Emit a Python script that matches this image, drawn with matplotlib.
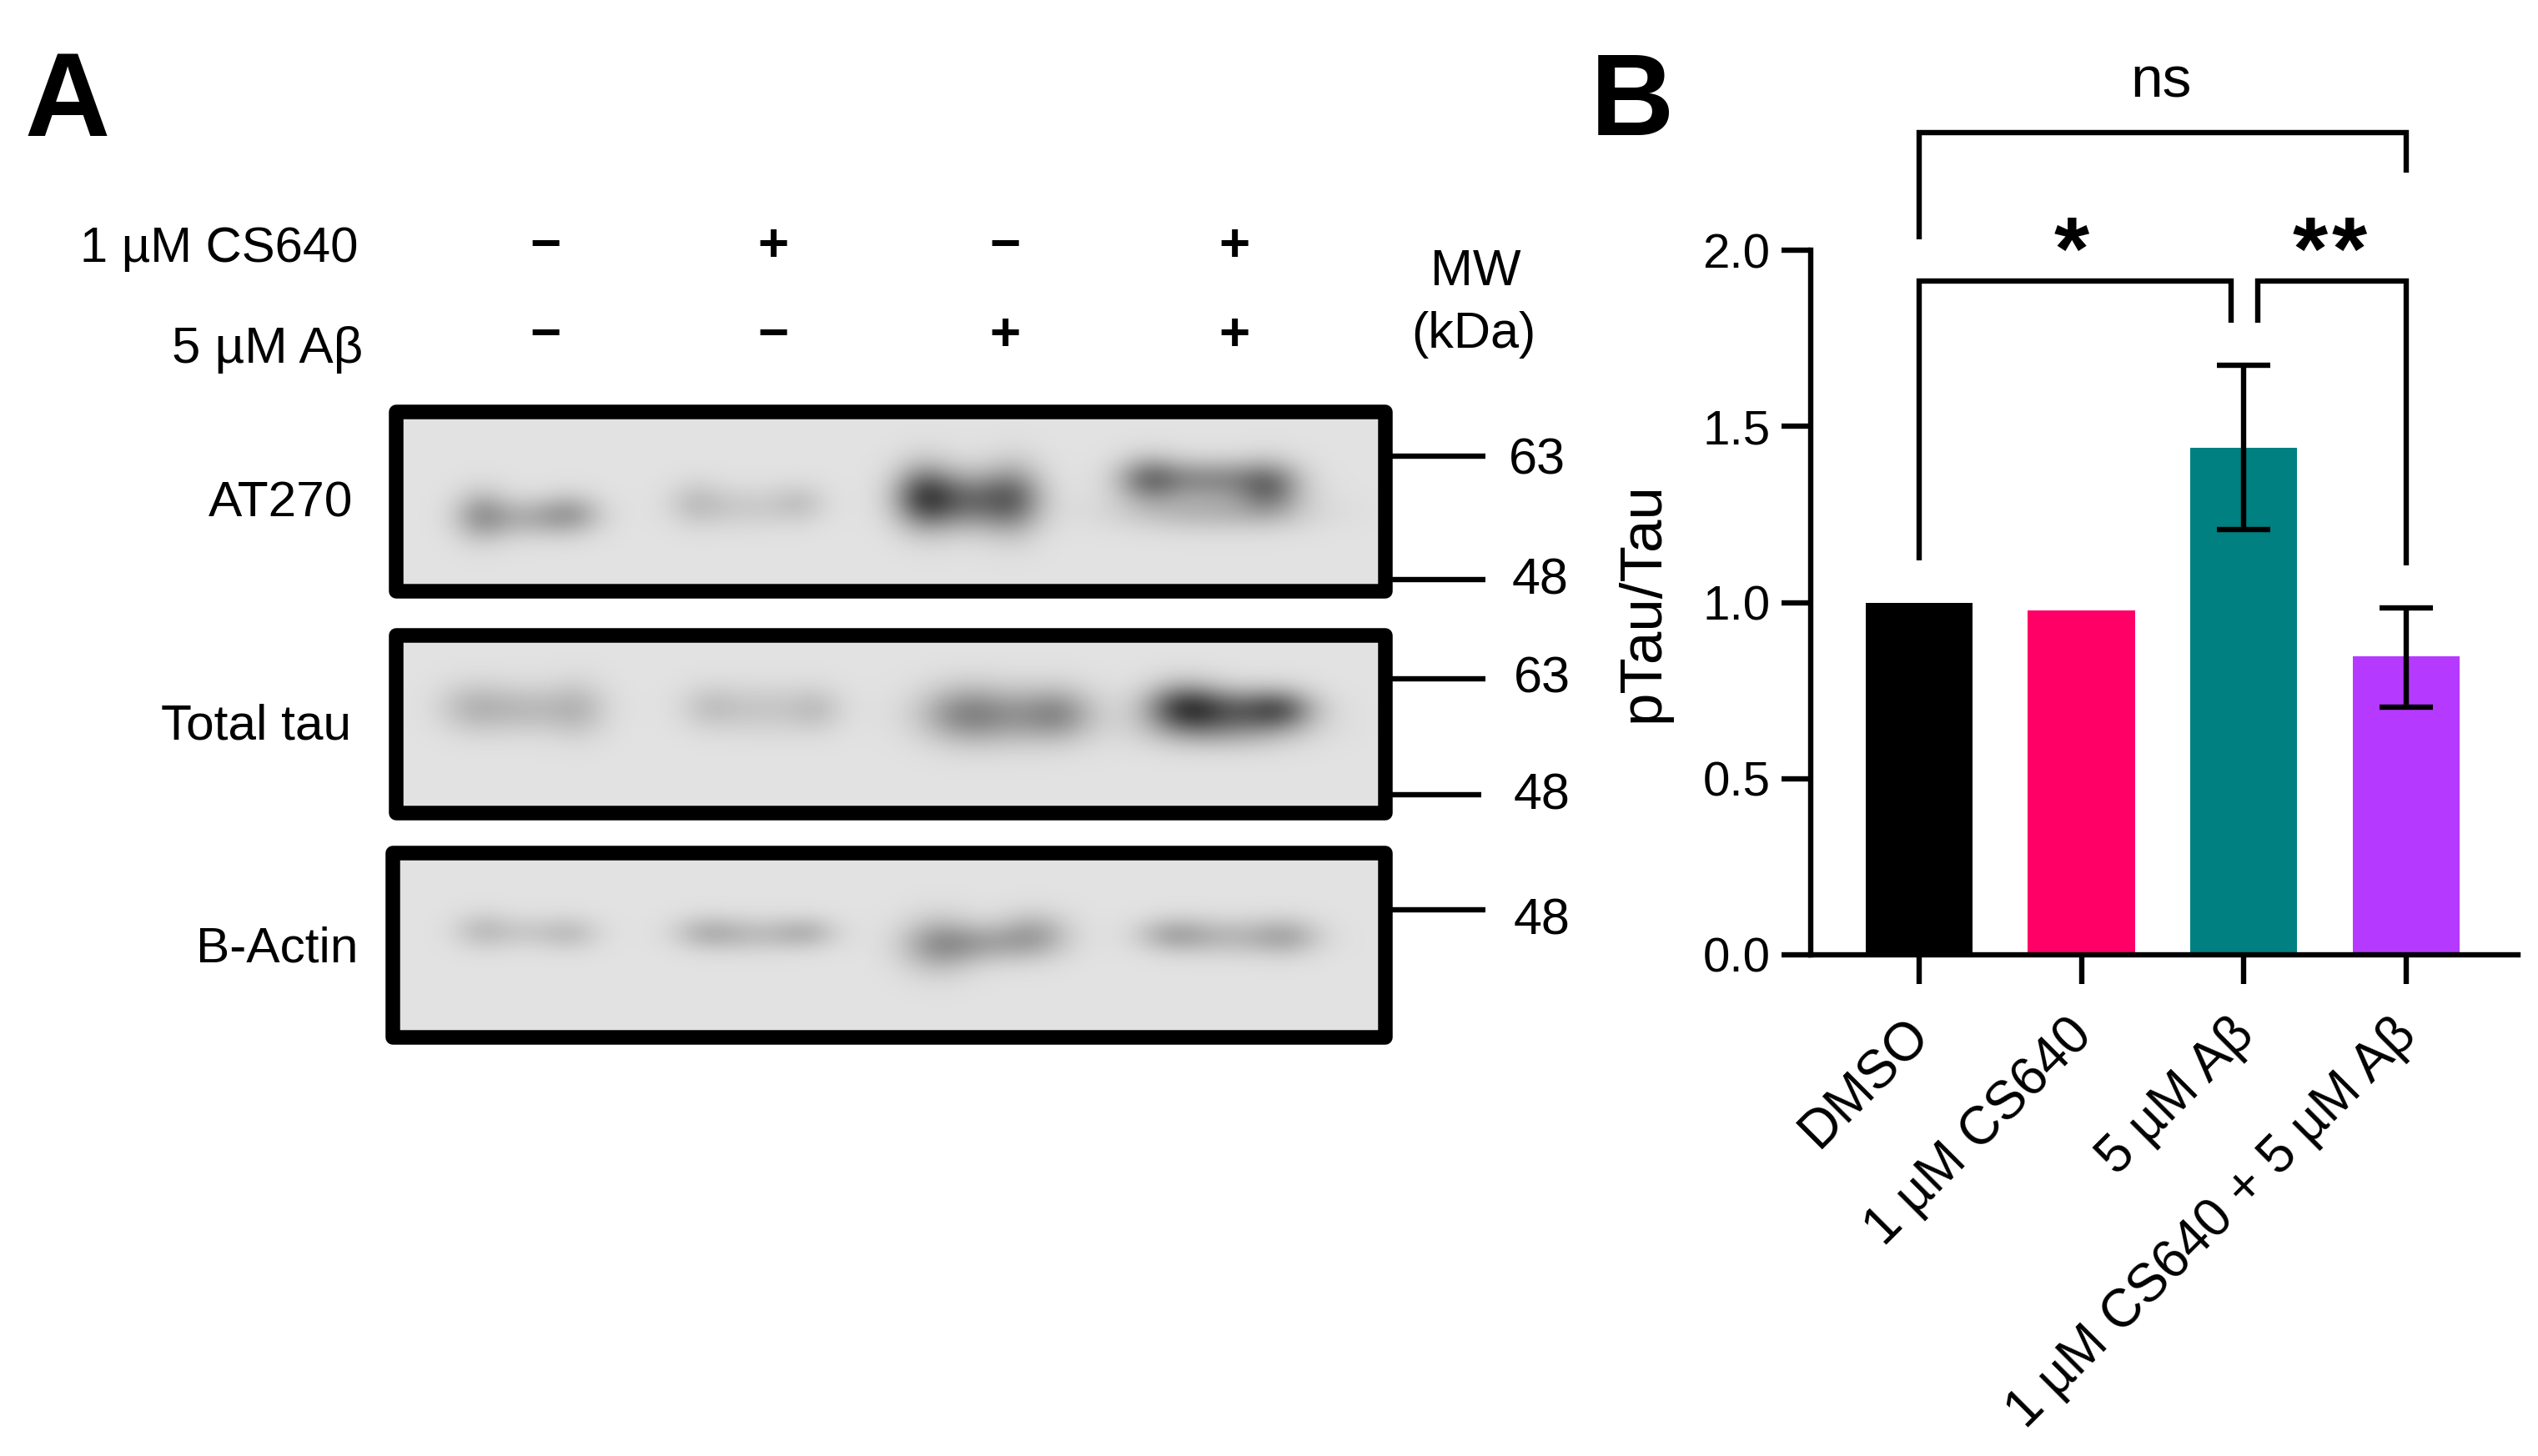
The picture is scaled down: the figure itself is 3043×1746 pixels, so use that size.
import numpy as np
import matplotlib
matplotlib.use('Agg')
import matplotlib.pyplot as plt
from matplotlib.patches import Rectangle
from matplotlib.transforms import ScaledTranslation

plt.rcParams['font.family'] = ['Liberation Sans', 'DejaVu Sans']

# panel B values
groups = ['DMSO', '1 µM CS640', '5 µM Aβ', '1 µM CS640 + 5 µM Aβ']
means = [1.0, 0.977, 1.44, 0.847]
err_low = [None, None, 1.207, 0.703]
err_high = [None, None, 1.673, 0.985]
bar_colors = ['#000000', '#ff0066', '#008080', '#b539ff']
y_ticks = [0.0, 0.5, 1.0, 1.5, 2.0]

# panel A labels
cs640_row = ['−', '+', '−', '+']
abeta_row = ['−', '−', '+', '+']
blot_names = ['AT270', 'Total tau', 'B-Actin']

at270_bands = [(165, 290, 15, 40, .30), (235, 295, 45, 30, .24), (295, 285, 20, 30, .24),
               (475, 260, 16, 35, .13), (545, 270, 50, 32, .12), (625, 260, 15, 30, .12),
               (805, 245, 20, 50, .60), (870, 255, 45, 45, .55), (935, 250, 20, 55, .42),
               (1130, 205, 22, 35, .42), (1220, 205, 60, 30, .42), (1305, 225, 22, 40, .45), (1220, 280, 90, 30, .22)]
tau_bands = [(150, 740, 25, 40, .15), (225, 745, 50, 38, .20), (305, 745, 20, 45, .16),
             (495, 740, 20, 35, .12), (575, 745, 50, 38, .14), (650, 745, 15, 35, .12),
             (860, 755, 35, 45, .26), (930, 760, 70, 45, .34), (1000, 755, 25, 40, .24),
             (1180, 740, 30, 38, .55), (1250, 745, 60, 32, .50), (1320, 745, 25, 30, .40), (1240, 795, 70, 30, .24)]
actin_bands = [(165, 1265, 18, 28, .14), (230, 1270, 40, 24, .11), (295, 1272, 20, 25, .13),
               (490, 1270, 25, 25, .17), (560, 1275, 50, 25, .17), (635, 1270, 22, 22, .17),
               (825, 1300, 30, 45, .30), (890, 1295, 50, 30, .26), (965, 1275, 28, 35, .26),
               (1165, 1275, 28, 25, .22), (1250, 1280, 60, 28, .20), (1330, 1280, 25, 28, .20)]

W, H = 3043, 1746
LINE = 4.6


def blot_image(x0, x1, y0, y1, bands):
    xs, ys = np.meshgrid(np.arange(x0, x1), np.arange(y0, y1))
    img = np.full(xs.shape, 0.885)
    for bx, by, sx, sy, d in bands:
        cx = 440 + bx * 0.829
        cy = 470 + by * 0.51
        wide = np.sqrt(sx ** 2 + 24 ** 2) * 0.829
        tall = np.sqrt(sy ** 2 + 16 ** 2) * 0.51
        img -= d * 0.72 * np.exp(-((xs - cx) / wide) ** 2 / 2 - ((ys - cy) / tall) ** 2 / 2)
    return np.clip(img, 0, 1)


fig = plt.figure(figsize=(W / 100, H / 100), dpi=100, facecolor='white')

# whole figure axes in pixels, for the blot panel
ax0 = fig.add_axes([0, 0, 1, 1])
ax0.set_xlim(0, W)
ax0.set_ylim(H, 0)
ax0.axis('off')

panels = [(483, 1652, 502, 700, at270_bands), (483, 1652, 770, 966, tau_bands), (479, 1652, 1031, 1235, actin_bands)]
for x0, x1, y0, y1, bands in panels:
    ax0.imshow(blot_image(x0, x1, y0, y1, bands), cmap='gray', vmin=0, vmax=1, aspect='auto',
               extent=(x0, x1, y1, y0), interpolation='bilinear')
    ax0.add_patch(Rectangle((x0 - 8.5, y0 - 8.5), x1 - x0 + 17, y1 - y0 + 17, fill=False, ec='black', lw=12.6,
                            joinstyle='round'))
ax0.set_xlim(0, W)
ax0.set_ylim(H, 0)

for ty, x_end, lab, lx, ly in [(547, 1781, '63', 1843, 553), (695, 1781, '48', 1847, 697),
                               (814, 1781, '63', 1849, 815), (953, 1776, '48', 1849, 955),
                               (1091, 1781, '48', 1849, 1105)]:
    ax0.plot([1669, x_end], [ty, ty], color='black', lw=LINE, solid_capstyle='butt')
    ax0.text(lx, ly, lab, fontsize=44, ha='center', va='center')

for name, ry, rx in zip(blot_names, [604, 871, 1138], [423, 421, 429]):
    ax0.text(rx, ry, name, fontsize=43.5, ha='right', va='center')

ax0.text(429, 299, '1 µM CS640', fontsize=43, ha='right', va='center')
ax0.text(435, 419, '5 µM Aβ', fontsize=44.5, ha='right', va='center')
for lane_x, a, b in zip([654, 927, 1205, 1480], cs640_row, abeta_row):
    ax0.text(lane_x, 296, a, fontsize=46, fontweight='bold', ha='center', va='center')
    ax0.text(lane_x, 403, b, fontsize=46, fontweight='bold', ha='center', va='center')
ax0.text(1769, 326, 'MW', fontsize=44, ha='center', va='center')
ax0.text(1767, 402, '(kDa)', fontsize=44, ha='center', va='center')

ax0.text(29, 126, 'A', fontsize=102, fontweight='bold', ha='left', va='center')
ax0.text(1907, 126, 'B', fontsize=100, fontweight='bold', ha='left', va='center')

# bar chart
ax = fig.add_axes([2171 / W, 1 - 1145 / H, (3019 - 2171) / W, (1145 - 300) / H])
ax.patch.set_alpha(0)
xpos = np.arange(len(groups))
ax.bar(xpos, means, width=0.66, color=bar_colors)
for i in xpos:
    if err_low[i] is not None:
        ax.plot([i, i], [err_low[i], err_high[i]], color='black', lw=LINE, solid_capstyle='butt')
        for v in (err_low[i], err_high[i]):
            ax.plot([i - 0.165, i + 0.165], [v, v], color='black', lw=LINE, solid_capstyle='butt')

ax.set_xlim(-0.668, 3.69)
ax.set_ylim(0, 2)
ax.set_yticks(y_ticks)
ax.set_yticklabels(['%.1f' % t for t in y_ticks])
ax.set_xticks(xpos)
ax.set_xticklabels(groups, rotation=45, ha='right', rotation_mode='anchor')
ax.tick_params(axis='both', width=LINE, length=25)
ax.tick_params(axis='y', labelsize=42, pad=10)
ax.tick_params(axis='x', labelsize=46, pad=22)
shift = ScaledTranslation(-18 / 100, 0, fig.dpi_scale_trans)
for lab in ax.get_xticklabels():
    lab.set_transform(lab.get_transform() + shift)
for s in ('top', 'right'):
    ax.spines[s].set_visible(False)
for s in ('left', 'bottom'):
    ax.spines[s].set_linewidth(LINE)
ax.set_ylabel('pTau/Tau', fontsize=51, labelpad=27)


# significance brackets
def bracket(xs, ys):
    ax.plot(xs, ys, color='black', lw=LINE, clip_on=False, solid_joinstyle='miter', solid_capstyle='butt')


bracket([0, 0, 3, 3], [2.03, 2.334, 2.334, 2.22])
bracket([0, 0, 1.92, 1.92], [1.12, 1.912, 1.912, 1.794])
bracket([2.085, 2.085, 3, 3], [1.794, 1.912, 1.912, 1.105])
ax.text(1.49, 2.477, 'ns', fontsize=50, ha='center', va='center', clip_on=False)
ax.text(0.94, 1.983, '*', fontsize=78, fontweight='bold', ha='center', va='center')
ax.text(2.41, 1.983, '*', fontsize=78, fontweight='bold', ha='center', va='center')
ax.text(2.65, 1.983, '*', fontsize=78, fontweight='bold', ha='center', va='center')

fig.savefig('out.png', dpi=100, facecolor='white')
